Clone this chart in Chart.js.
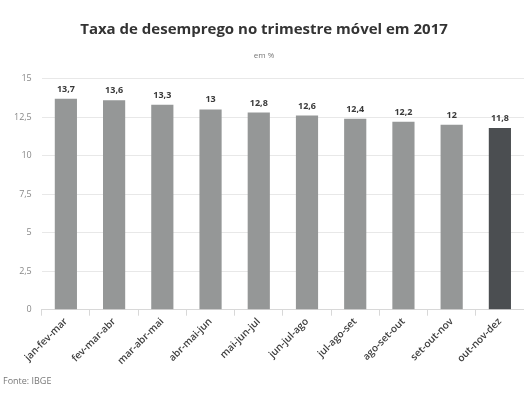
<!DOCTYPE html>
<html>
<head>
<meta charset="utf-8">
<script src="https://cdn.jsdelivr.net/npm/chart.js@4/dist/chart.umd.min.js"></script>
<style>
  html, body { margin: 0; padding: 0; background: #fff; }
  #wrap { width: 524px; height: 395px; }
</style>
</head>
<body>
<div id="wrap"><canvas id="chart"></canvas></div>
<script>
labels = ['jan-fev-mar', 'fev-mar-abr', 'mar-abr-mai', 'abr-mai-jun', 'mai-jun-jul', 'jun-jul-ago', 'jul-ago-set', 'ago-set-out', 'set-out-nov', 'out-nov-dez'];
values = [13.7, 13.6, 13.3, 13, 12.8, 12.6, 12.4, 12.2, 12, 11.8];
yTicks = [0, 2.5, 5, 7.5, 10, 12.5, 15];

function fmt(v){
  return String(v).replace('.', ',');
}

colors = values.map(function(v, i){
  return i === values.length - 1 ? '#4b4e51' : '#959797';
});

// value labels over bars + source line
const extras = {
  id: 'extras',
  afterDatasetsDraw(chart){
    const ctx = chart.ctx;
    const meta = chart.getDatasetMeta(0);
    ctx.save();
    ctx.font = 'bold 9px "Open Sans"';
    ctx.fillStyle = '#3a3a3a';
    ctx.textAlign = 'center';
    ctx.textBaseline = 'bottom';
    meta.data.forEach(function(bar, i){
      ctx.fillText(fmt(values[i]), bar.x, bar.y - 5);
    });
    ctx.font = '9px "Open Sans"';
    ctx.fillStyle = '#777';
    ctx.textAlign = 'left';
    ctx.textBaseline = 'middle';
    ctx.fillText('Fonte: IBGE', 3, 381);
    ctx.restore();
  }
};

new Chart(document.getElementById('chart'), {
  type: 'bar',
  data: {
    labels: labels,
    datasets: [{
      data: values,
      backgroundColor: colors,
      borderWidth: 0,
      barPercentage: 0.46,
      categoryPercentage: 1
    }]
  },
  options: {
    responsive: true,
    maintainAspectRatio: false,
    animation: false,
    layout: { padding: { left: 4, right: 0, top: 0, bottom: 28 } },
    plugins: {
      legend: { display: false },
      tooltip: { enabled: false },
      title: {
        display: true,
        text: 'Taxa de desemprego no trimestre móvel em 2017',
        color: '#333',
        font: { family: 'Open Sans', size: 15, weight: 'bold' },
        padding: { top: 21, bottom: 8 }
      },
      subtitle: {
        display: true,
        text: 'em %',
        color: '#777',
        font: { family: 'Open Sans', size: 8 },
        padding: { top: 4, bottom: 18 }
      }
    },
    scales: {
      x: {
        grid: { display: true, drawOnChartArea: false, drawTicks: true, tickLength: 6, color: '#d8d8d8' },
        border: { display: true, color: '#d8d8d8' },
        ticks: {
          color: '#3e3e3e',
          font: { family: 'Open Sans', size: 10, weight: '600' },
          maxRotation: 45,
          minRotation: 45,
          padding: 0
        }
      },
      y: {
        min: 0,
        max: 15,
        afterBuildTicks: function(axis){
          axis.ticks = yTicks.map(function(v){ return { value: v }; });
        },
        grid: { color: '#e8e8e8', drawTicks: false },
        border: { display: false },
        ticks: {
          color: '#888',
          font: { family: 'Open Sans', size: 9 },
          padding: 10,
          callback: function(v){ return fmt(v); }
        }
      }
    }
  },
  plugins: [extras]
});
</script>
</body>
</html>
